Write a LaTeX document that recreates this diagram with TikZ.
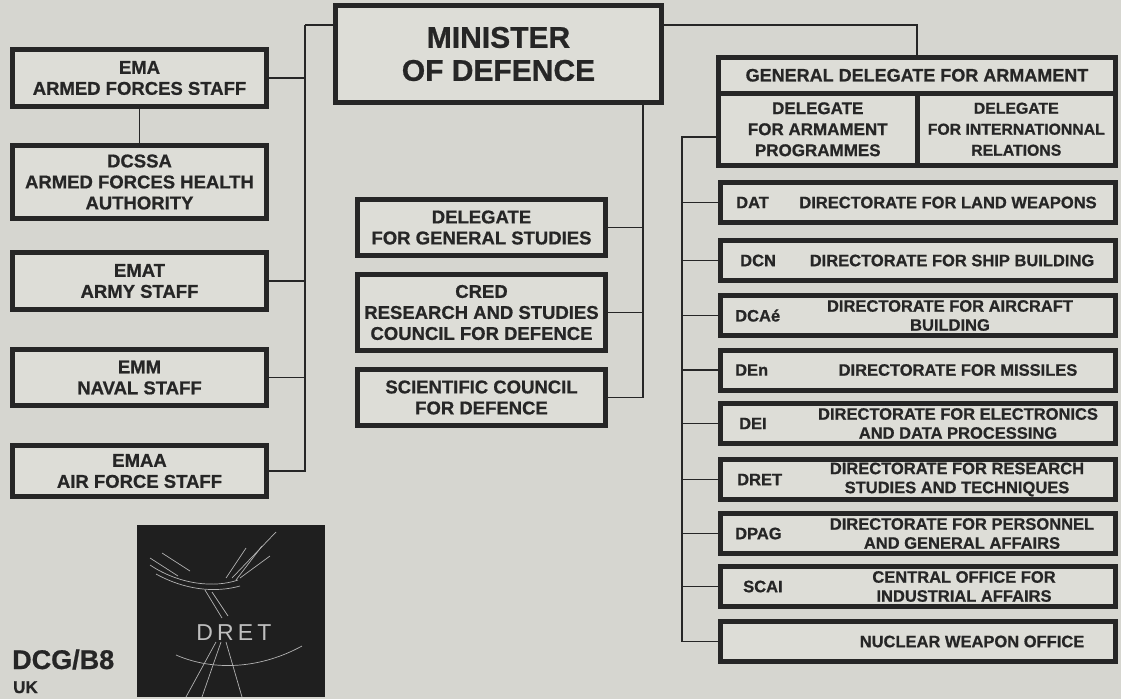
\documentclass[tikz,border=0pt]{standalone}
\usepackage{fontspec}
\setmainfont{Liberation Sans}[BoldFeatures={FakeBold=0.8}]
\usepackage{xcolor}
\usepackage{tikz}
\usetikzlibrary{positioning}

\definecolor{paper}{HTML}{D6D6D0}
\definecolor{boxfill}{HTML}{DDDDD7}
\definecolor{ink}{HTML}{262626}

\begin{document}
\begin{tikzpicture}[x=1pt,y=-1pt,
			every node/.style = {text=ink, font=\bfseries},
			box/.style = {draw=ink, line width=5pt, fill=boxfill,
				inner sep=0pt, align=center,
				font=\fontsize{18.5}{21}\selectfont\bfseries},
			leftbox/.style = {box, minimum width=254pt},
			midbox/.style = {box, minimum width=248pt},
			halfbox/.style = {box, minimum width=198.5pt, minimum height=72.5pt,
				font=\fontsize{17}{21}\selectfont\bfseries},
			rowbox/.style = {box, minimum width=395pt, minimum height=40pt},
			abbr/.style = {inner sep=0pt, font=\fontsize{16.5}{19}\selectfont\bfseries},
			desc/.style = {abbr, align=center},
			link/.style = {draw=ink, line width=1.8pt}]
			\fill[paper] (0,0) rectangle (1121,699);

			% top of the tree
			\node[box, minimum width=326pt, minimum height=97pt,
				font=\fontsize{30}{33}\selectfont\bfseries] (minister) at (498.5,54) {MINISTER\\OF DEFENCE};

			% staffs
			\node[leftbox, minimum height=57pt] (ema) at (139.5,78) {EMA\\ARMED FORCES STAFF};
			\node[leftbox, minimum height=73pt] (dcssa) at (139.5,182) {DCSSA\\ARMED FORCES HEALTH\\AUTHORITY};
			\node[leftbox, minimum height=57pt] (emat) at (139.5,281) {EMAT\\ARMY STAFF};
			\node[leftbox, minimum height=56pt] (emm) at (139.5,377.5) {EMM\\NAVAL STAFF};
			\node[leftbox, minimum height=51pt] (emaa) at (139.5,471) {EMAA\\AIR FORCE STAFF};

			% councils
			\node[midbox, minimum height=56pt] (dgs) at (481.5,227.5) {DELEGATE\\FOR GENERAL STUDIES};
			\node[midbox, minimum height=76pt] (cred) at (481.5,312.5) {CRED\\RESEARCH AND STUDIES\\COUNCIL FOR DEFENCE};
			\node[midbox, minimum height=56pt] (scd) at (481.5,397.5) {SCIENTIFIC COUNCIL\\FOR DEFENCE};

			% armament
			\node[box, minimum width=397pt, minimum height=35.5pt,
				font=\fontsize{18}{20}\selectfont\bfseries] (gda) at (917,75.25) {GENERAL DELEGATE FOR ARMAMENT};
			\node[halfbox] (dap) at (817.75,129.25) {DELEGATE\\FOR ARMAMENT\\PROGRAMMES};
			\node[halfbox, font=\fontsize{15.8}{21}\selectfont\bfseries] (dri) at (1016.25,129.25) {DELEGATE\\FOR INTERNATIONNAL\\RELATIONS};

			\node[rowbox] (dat) at (918,202.5) {};
			\node[abbr, right=18pt of dat.west] {DAT};
			\node[desc] at ([xshift=30pt]dat.center) {DIRECTORATE FOR LAND WEAPONS};

			\node[rowbox] (dcn) at (918,260.5) {};
			\node[abbr, right=22pt of dcn.west] {DCN};
			\node[desc] at ([xshift=34pt]dcn.center) {DIRECTORATE FOR SHIP BUILDING};

			\node[rowbox] (dca) at (918,315.5) {};
			\node[abbr, right=17pt of dca.west] {DCAé};
			\node[desc] at ([xshift=32pt]dca.center) {DIRECTORATE FOR AIRCRAFT\\BUILDING};

			\node[rowbox] (den) at (918,370) {};
			\node[abbr, right=17pt of den.west] {DEn};
			\node[desc] at ([xshift=40pt]den.center) {DIRECTORATE FOR MISSILES};

			\node[rowbox] (dei) at (918,423.5) {};
			\node[abbr, right=21pt of dei.west] {DEI};
			\node[desc] at ([xshift=40pt]dei.center) {DIRECTORATE FOR ELECTRONICS\\AND DATA PROCESSING};

			\node[rowbox] (dret) at (918,479.5) {};
			\node[abbr, right=19pt of dret.west] {DRET};
			\node[desc] at ([xshift=39pt]dret.center) {DIRECTORATE FOR RESEARCH\\STUDIES AND TECHNIQUES};

			\node[rowbox] (dpag) at (918,533.5) {};
			\node[abbr, right=17pt of dpag.west] {DPAG};
			\node[desc] at ([xshift=44pt]dpag.center) {DIRECTORATE FOR PERSONNEL\\AND GENERAL AFFAIRS};

			\node[rowbox] (scai) at (918,586.5) {};
			\node[abbr, right=25pt of scai.west] {SCAI};
			\node[desc] at ([xshift=46pt]scai.center) {CENTRAL OFFICE FOR\\INDUSTRIAL AFFAIRS};

			\node[rowbox] (nwo) at (918,641.5) {};
			\node[desc] at ([xshift=54pt]nwo.center) {NUCLEAR WEAPON OFFICE};

			% connectors
			\coordinate (lbus) at (305,25);
			\coordinate (mbus) at (643,0 |- minister.south);
			\coordinate (rbus) at (682,137);

			\draw[link] (lbus) -- (lbus -| minister.west);
			\draw[link] (lbus) |- (emaa.east);
			\draw[link] (ema.east) -- (ema.east -| lbus);
			\draw[link] (emat.east) -- (emat.east -| lbus);
			\draw[link] (emm.east) -- (emm.east -| lbus);
			\draw[link] (ema.south) -- (dcssa.north);

			\draw[link] (lbus -| minister.east) -| (gda.north);

			\draw[link] (mbus) |- (scd.east);
			\draw[link] (dgs.east) -- (dgs.east -| mbus);
			\draw[link] (cred.east) -- (cred.east -| mbus);

			\draw[link] (rbus -| dap.west) -- (rbus) |- (nwo.west);
			\foreach \n in {dat,dcn,dca,den,dei,dret,dpag,scai}
				\draw[link] (\n.west) -- (\n.west -| rbus);

			% logo
			\fill[black!88] (137,525) rectangle (325,697);
			\begin{scope}[draw=black!30, line width=0.7pt]
				\draw (150,565) .. controls (180,585) and (215,588) .. (238,580);
				\draw (156,574) .. controls (185,590) and (215,593) .. (240,586);
				\draw (232,578) -- (276,532);
				\draw (236,580) -- (262,546);
				\draw (226,578) -- (246,548);
				\draw (240,578) -- (270,556);
				\draw (150,558) -- (178,576);
				\draw (162,553) -- (190,571);
				\draw (205,590) -- (222,618);
				\draw (212,592) -- (228,616);
				\draw (176,655) .. controls (215,672) and (262,668) .. (302,646);
				\draw (216,642) -- (186,697);
				\draw (221,642) -- (202,697);
				\draw (226,642) -- (242,697);
			\end{scope}
			\node[text=black!25, font=\fontsize{23}{23}\selectfont\mdseries\addfontfeature{LetterSpace=18}] (dret logo) at (234,633) {DRET};

			\node[anchor=base west, inner sep=0pt, font=\fontsize{27}{27}\selectfont\bfseries] (dcg) at (12,669) {DCG/B8};
			\node[anchor=base west, inner sep=0pt, font=\fontsize{17}{17}\selectfont\bfseries] (uk) at (13,693) {UK};
\end{tikzpicture}
\end{document}
